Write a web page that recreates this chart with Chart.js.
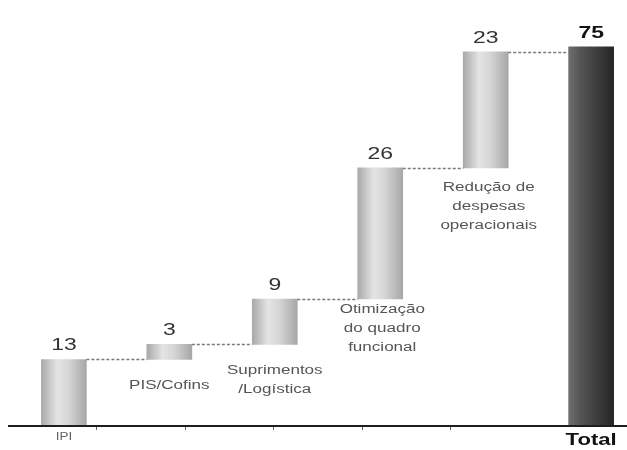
<!DOCTYPE html>
<html>
<head>
<meta charset="utf-8">
<script src="https://cdn.jsdelivr.net/npm/chart.js@4.4.1/dist/chart.umd.min.js"></script>
<style>
  html, body { margin: 0; padding: 0; background: #ffffff; }
  #wrap { width: 627px; height: 450px; }
</style>
</head>
<body>
<div id="wrap"><canvas id="c" width="627" height="450"></canvas></div>
<script>
// ---- data ----
const categories = ['IPI', 'PIS/Cofins', 'Suprimentos\n/Logística', 'Otimização\ndo quadro\nfuncional', 'Redução de\ndespesas\noperacionais', 'Total'];
const stepValues = [13, 3, 9, 26, 23];
const totalValue = 75;
const valueLabels = ['13', '3', '9', '26', '23', '75'];

// floating bars built from the values
const barData = [];
let running = 0;
const levels = [];
stepValues.forEach((v, i) => {
  barData.push({ x: i, y: [running, running + v] });
  running += v;
  levels.push(running);
});
barData.push({ x: stepValues.length, y: [0, totalValue] });

const FONT = '"Liberation Sans", Arial, sans-serif';

function barFill(ctx) {
  const chart = ctx.chart;
  if (!chart.chartArea) return '#cccccc';
  const xs = chart.scales.x;
  const cx = xs.getPixelForValue(ctx.dataIndex);
  const half = 22;
  const g = chart.ctx.createLinearGradient(cx - half, 0, cx + half, 0);
  if (ctx.dataIndex === stepValues.length) {
    g.addColorStop(0, '#6e6e6e');
    g.addColorStop(0.25, '#555555');
    g.addColorStop(1, '#262626');
  } else {
    g.addColorStop(0, '#ababab');
    g.addColorStop(0.35, '#e4e4e4');
    g.addColorStop(0.6, '#d6d6d6');
    g.addColorStop(1, '#a8a8a8');
  }
  return g;
}

// text drawn with a horizontal stretch like the reference
function wideText(ctx, text, x, y, sx) {
  ctx.save();
  ctx.translate(x, y);
  ctx.scale(sx, 1);
  ctx.fillText(text, 0, 0);
  ctx.restore();
}

const decorations = {
  id: 'decorations',
  afterDatasetsDraw(chart) {
    const ctx = chart.ctx;
    const meta = chart.getDatasetMeta(0);
    const ys = chart.scales.y;
    const area = chart.chartArea;
    const bars = meta.data;
    ctx.save();

    // axis line
    ctx.strokeStyle = '#1e1e1e';
    ctx.lineWidth = 2;
    ctx.beginPath();
    ctx.moveTo(area.left, area.bottom + 1);
    ctx.lineTo(area.right, area.bottom + 1);
    ctx.stroke();

    // small tick marks
    ctx.strokeStyle = '#666';
    ctx.lineWidth = 1;
    const step = (area.right - area.left) / 7;
    for (let k = 1; k <= 5; k++) {
      const tx = Math.round(area.left + step * k) + 0.5;
      ctx.beginPath();
      ctx.moveTo(tx, area.bottom + 2);
      ctx.lineTo(tx, area.bottom + 5);
      ctx.stroke();
    }

    // dashed connectors
    ctx.strokeStyle = '#7a7a7a';
    ctx.lineWidth = 1.5;
    ctx.setLineDash([3, 2]);
    for (let i = 0; i < bars.length - 1; i++) {
      const a = bars[i], b = bars[i + 1];
      const yy = Math.round(ys.getPixelForValue(levels[i])) + 0.5;
      ctx.beginPath();
      ctx.moveTo(a.x + a.width / 2, yy);
      ctx.lineTo(b.x - b.width / 2, yy);
      ctx.stroke();
    }
    ctx.setLineDash([]);

    // value labels
    ctx.textAlign = 'center';
    ctx.textBaseline = 'alphabetic';
    bars.forEach((bar, i) => {
      const isTotal = i === bars.length - 1;
      ctx.font = (isTotal ? 'bold 17px ' : '17px ') + FONT;
      ctx.fillStyle = isTotal ? '#111' : '#333';
      wideText(ctx, valueLabels[i], bar.x, Math.min(bar.y, bar.base) - 9, 1.35);
    });

    // category notes under floating bars
    ctx.font = '12px ' + FONT;
    ctx.fillStyle = '#555';
    ctx.textBaseline = 'middle';
    const noteOffset = [0, 26, 26, 11, 20];
    const noteDx = [0, 0, 0, 2, 3];
    for (let i = 1; i < stepValues.length; i++) {
      const bar = bars[i];
      const lines = categories[i].split('\n');
      const y0 = Math.max(bar.y, bar.base) + noteOffset[i];
      lines.forEach((ln, j) => wideText(ctx, ln, bar.x + noteDx[i], y0 + j * 19, 1.42));
    }

    // axis labels for first and total
    ctx.textBaseline = 'top';
    ctx.font = '10px ' + FONT;
    ctx.fillStyle = '#666';
    wideText(ctx, categories[0], bars[0].x, area.bottom + 7, 1.35);
    ctx.font = 'bold 17px ' + FONT;
    ctx.fillStyle = '#111';
    wideText(ctx, categories[5], bars[5].x, area.bottom + 7, 1.3);

    ctx.restore();
  }
};

new Chart(document.getElementById('c'), {
  type: 'bar',
  data: {
    datasets: [{
      data: barData,
      backgroundColor: barFill,
      borderWidth: 0,
      barThickness: 45,
      borderSkipped: false
    }]
  },
  options: {
    responsive: false,
    animation: false,
    layout: { padding: { left: 8, right: 0, top: 0, bottom: 25 } },
    plugins: { legend: { display: false }, tooltip: { enabled: false } },
    scales: {
      x: { type: 'linear', min: -0.53, max: 5.34, offset: false, display: false },
      y: { min: 0, max: 84.3, display: false }
    }
  },
  plugins: [decorations]
});
</script>
</body>
</html>
